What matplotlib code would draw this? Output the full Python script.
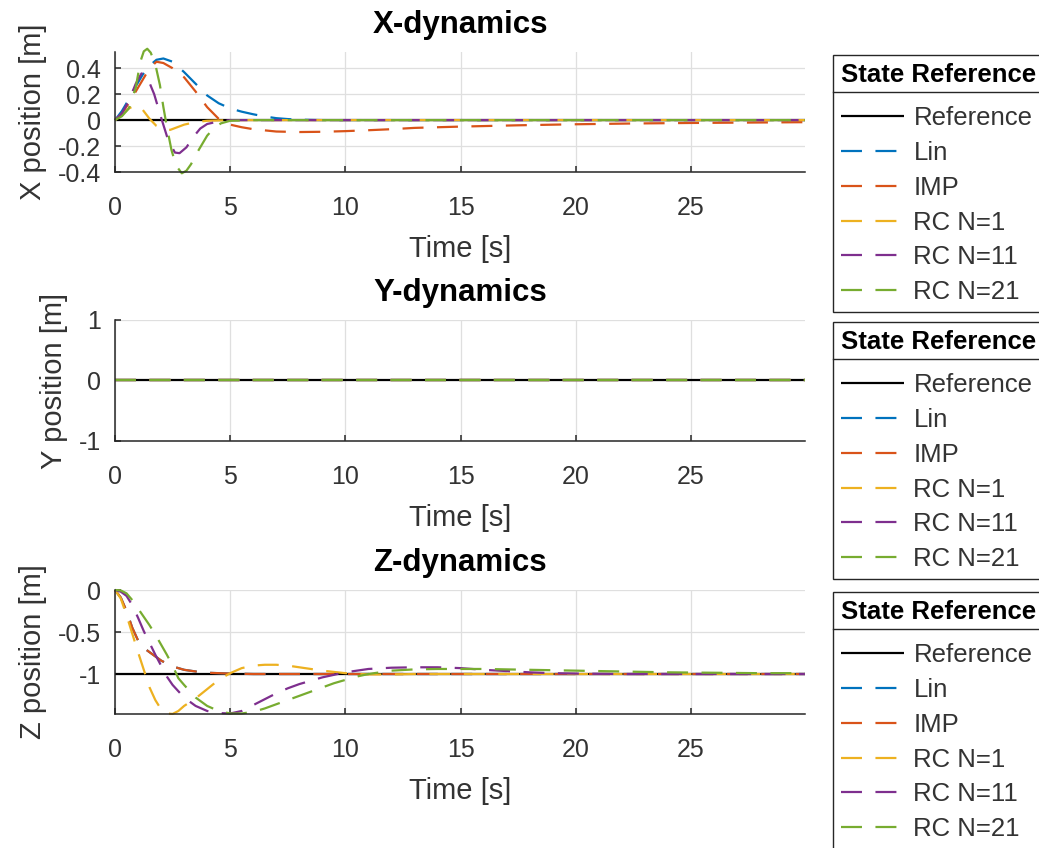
import matplotlib
matplotlib.use("Agg")
import matplotlib.pyplot as plt
from matplotlib.lines import Line2D

# ---------------- data ----------------
series_names = ["Reference", "Lin", "IMP", "RC N=1", "RC N=11", "RC N=21"]
series_colors = ["#000000", "#0072BD", "#D95319", "#EDB120", "#7E2F8E", "#77AC30"]
panel_titles = ["X-dynamics", "Y-dynamics", "Z-dynamics"]
panel_ylabels = ["X position [m]", "Y position [m]", "Z position [m]"]
x_tick_values = [0, 5, 10, 15, 20, 25]

# X position
x_ref_t = [0, 29.95]
x_ref = [0, 0]
x_lin_t = [0, 0.3, 0.6, 0.9, 1.2, 1.5, 1.8, 2.1, 2.5, 3.0, 3.5, 4.0, 4.5, 5.0, 5.5, 6.0,
           6.5, 7.0, 7.5, 8.0, 9.0, 10, 29.95]
x_lin = [0, 0.07, 0.16, 0.26, 0.35, 0.42, 0.465, 0.475, 0.45, 0.37, 0.28, 0.19, 0.13, 0.09,
         0.065, 0.045, 0.028, 0.015, 0.008, 0.003, 0.0, 0.0, 0.0]
x_imp_t = [0, 0.3, 0.6, 0.9, 1.2, 1.5, 1.8, 2.1, 2.5, 3.0, 3.5, 4.0, 4.5, 5.0, 5.5, 6.0, 7.0,
           8.0, 9.0, 10, 11, 12, 13, 15, 17.5, 20, 22.5, 25, 27.5, 29.95]
x_imp = [0, 0.05, 0.13, 0.22, 0.31, 0.40, 0.45, 0.44, 0.40, 0.33, 0.22, 0.10, 0.01, -0.035,
         -0.055, -0.07, -0.088, -0.092, -0.09, -0.085, -0.078, -0.07, -0.06, -0.05, -0.04,
         -0.032, -0.026, -0.022, -0.019, -0.016]
x_rc1_t = [0, 0.3, 0.6, 0.9, 1.2, 1.5, 1.8, 2.1, 2.4, 2.7, 3.0, 3.5, 4.0, 5.0, 29.95]
x_rc1 = [0, 0.04, 0.09, 0.115, 0.08, 0.01, -0.045, -0.072, -0.075, -0.055, -0.035, -0.015,
         -0.005, 0.0, 0.0]
x_rc11_t = [0, 0.3, 0.6, 0.9, 1.15, 1.4, 1.7, 2.0, 2.3, 2.6, 2.8, 3.1, 3.4, 3.7, 4.0, 4.5,
            5.0, 29.95]
x_rc11 = [0, 0.05, 0.15, 0.28, 0.36, 0.33, 0.20, 0.02, -0.15, -0.25, -0.255, -0.21, -0.13,
          -0.065, -0.03, -0.01, 0.0, 0.0]
x_rc21_t = [0, 0.3, 0.6, 0.9, 1.1, 1.25, 1.4, 1.55, 1.75, 1.95, 2.1, 2.25, 2.45, 2.65, 2.9,
            3.1, 3.3, 3.6, 4.0, 4.3, 4.6, 5.0, 6.0, 29.95]
x_rc21 = [0, 0.03, 0.09, 0.25, 0.45, 0.53, 0.55, 0.52, 0.43, 0.27, 0.10, -0.05, -0.23, -0.35,
          -0.41, -0.39, -0.34, -0.24, -0.12, -0.06, -0.025, -0.005, 0.0, 0.0]

# Y position (all controllers hold zero)
y_t = [0, 29.95]
y_ref = [0, 0]
y_lin = [0, 0]
y_imp = [0, 0]
y_rc1 = [0, 0]
y_rc11 = [0, 0]
y_rc21 = [0, 0]

# Z position
z_ref_t = [0, 29.95]
z_ref = [-1, -1]
z_imp_t = [0, 0.25, 0.5, 0.75, 1.0, 1.25, 1.5, 1.75, 2.0, 2.5, 3.0, 3.5, 4.0, 5.0, 6.0, 29.95]
z_imp = [0, -0.09, -0.25, -0.45, -0.60, -0.69, -0.74, -0.79, -0.84, -0.91, -0.95, -0.97,
         -0.985, -0.995, -1.0, -1.0]
z_lin_t = z_imp_t
z_lin = z_imp
z_rc1_t = [0, 0.25, 0.5, 0.75, 1.0, 1.25, 1.5, 1.75, 2.0, 2.25, 2.5, 2.75, 3.0, 3.5, 4.0,
           4.5, 5.0, 5.5, 6.0, 6.5, 7.0, 7.5, 8.0, 8.5, 9.0, 9.5, 10, 11, 12, 13, 29.95]
z_rc1 = [0, -0.10, -0.30, -0.52, -0.74, -0.95, -1.16, -1.31, -1.42, -1.47, -1.475, -1.44,
         -1.38, -1.29, -1.18, -1.07, -0.99, -0.93, -0.90, -0.89, -0.89, -0.90, -0.92, -0.94,
         -0.96, -0.975, -0.99, -1.005, -1.005, -1.0, -1.0]
z_rc11_t = [0, 0.25, 0.5, 0.75, 1.0, 1.25, 1.5, 1.75, 2.0, 2.25, 2.5, 3.0, 3.5, 4.0, 4.5,
            5.0, 5.5, 6.0, 6.5, 7.0, 7.5, 8.0, 8.5, 9.0, 9.5, 10, 10.5, 11, 12, 13, 14, 15,
            16, 17, 18, 19, 20, 22, 29.95]
z_rc11 = [0, -0.02, -0.07, -0.18, -0.33, -0.49, -0.63, -0.77, -0.90, -1.03, -1.13, -1.28,
          -1.38, -1.44, -1.465, -1.47, -1.44, -1.37, -1.30, -1.23, -1.17, -1.12, -1.08,
          -1.04, -1.01, -0.98, -0.96, -0.94, -0.925, -0.92, -0.92, -0.93, -0.95, -0.965,
          -0.98, -0.99, -0.995, -1.0, -1.0]
z_rc21_t = [0, 0.25, 0.5, 0.75, 1.0, 1.25, 1.5, 1.75, 2.0, 2.25, 2.5, 2.75, 3.0, 3.5, 4.0,
            4.5, 5.0, 5.5, 6.0, 6.5, 7.0, 7.5, 8.0, 8.5, 9.0, 9.5, 10, 10.5, 11, 11.5, 12,
            13, 14, 15, 16, 17, 18, 19, 20, 22, 24, 26, 28, 29.95]
z_rc21 = [0, -0.005, -0.04, -0.12, -0.22, -0.32, -0.42, -0.53, -0.65, -0.77, -0.90, -1.05,
          -1.13, -1.28, -1.38, -1.44, -1.47, -1.47, -1.45, -1.41, -1.36, -1.31, -1.26,
          -1.21, -1.16, -1.11, -1.07, -1.03, -1.00, -0.98, -0.96, -0.945, -0.94, -0.94,
          -0.94, -0.945, -0.95, -0.955, -0.96, -0.97, -0.98, -0.985, -0.99, -0.99]

panels = [
    [(x_ref_t, x_ref), (x_lin_t, x_lin), (x_imp_t, x_imp), (x_rc1_t, x_rc1),
     (x_rc11_t, x_rc11), (x_rc21_t, x_rc21)],
    [(y_t, y_ref), (y_t, y_lin), (y_t, y_imp), (y_t, y_rc1), (y_t, y_rc11), (y_t, y_rc21)],
    [(z_ref_t, z_ref), (z_lin_t, z_lin), (z_imp_t, z_imp), (z_rc1_t, z_rc1),
     (z_rc11_t, z_rc11), (z_rc21_t, z_rc21)],
]
panel_ylims = [(-0.4, 0.525), (-1, 1), (-1.476, 0)]
panel_yticks = [[-0.4, -0.2, 0, 0.2, 0.4], [-1, 0, 1], [-1, -0.5, 0]]
panel_yticklabels = [["-0.4", "-0.2", "0", "0.2", "0.4"], ["-1", "0", "1"], ["-1", "-0.5", "0"]]

# ---------------- style ----------------
plt.rcParams["font.family"] = ["Liberation Sans", "DejaVu Sans"]
plt.rcParams["lines.scale_dashes"] = False
AX_COLOR = "#262626"
TEXT_COLOR = "#333333"
W, H = 1039, 848
fig = plt.figure(figsize=(W / 100, H / 100), dpi=100)

# axes boxes in pixels: (left, top, right, bottom)
boxes = [(115, 52, 805, 172), (115, 320, 805, 441), (115, 590, 805, 714)]
legend_tops = [55, 322, 592]
LW = 1.6

for i, (l, t, r, b) in enumerate(boxes):
    ax = fig.add_axes([l / W, 1 - b / H, (r - l) / W, (b - t) / H])
    for j, (tt, vv) in enumerate(panels[i]):
        if j == 0:
            ax.plot(tt, vv, color=series_colors[j], lw=LW, label=series_names[j],
                    solid_capstyle="butt", clip_on=False)
        else:
            ax.plot(tt, vv, color=series_colors[j], lw=LW, label=series_names[j],
                    linestyle=(0, (15.1, 9.7)), dash_capstyle="butt", clip_on=False)
    ax.set_xlim(0, 29.95)
    ax.set_ylim(*panel_ylims[i])
    ax.set_xticks(x_tick_values)
    ax.set_xticklabels([str(v) for v in x_tick_values])
    ax.set_yticks(panel_yticks[i])
    ax.set_yticklabels(panel_yticklabels[i])
    ax.grid(True, color="#dfdfdf", lw=0.9)
    ax.set_axisbelow(True)
    for s in ["top", "right"]:
        ax.spines[s].set_visible(False)
    for s in ["left", "bottom"]:
        ax.spines[s].set_color(AX_COLOR)
        ax.spines[s].set_linewidth(1.1)
    ax.tick_params(direction="in", length=4, width=1.1, colors=AX_COLOR,
                   labelsize=18, labelcolor=TEXT_COLOR)
    ax.tick_params(axis="x", pad=17)
    ax.tick_params(axis="y", pad=10)
    ax.set_xlabel("Time [s]", fontsize=21, color=TEXT_COLOR, labelpad=11)
    ax.set_ylabel(panel_ylabels[i], fontsize=21, color=TEXT_COLOR, labelpad=8)
    ax.set_title(panel_titles[i], fontsize=22.5, fontweight="bold", pad=14)

    leg = ax.legend(loc="upper left", bbox_to_anchor=(833 / W, 1 - legend_tops[i] / H),
                    bbox_transform=fig.transFigure, borderaxespad=0, fontsize=18.5,
                    title="State Reference",
                    title_fontproperties={"weight": "bold", "size": 18.5},
                    alignment="left", frameon=True, fancybox=False, framealpha=1,
                    edgecolor=AX_COLOR, handlelength=2.45, handletextpad=0.38,
                    borderpad=0.3, labelspacing=0.42)
    leg.get_frame().set_linewidth(1.0)
    for txt in leg.get_texts():
        txt.set_color(TEXT_COLOR)
    leg._legend_box.sep = 14
    ax._state_legend = leg

# separator line beneath each legend title
fig.canvas.draw()
renderer = fig.canvas.get_renderer()
for ax in fig.axes:
    leg = ax._state_legend
    lbb = leg.get_window_extent(renderer)
    tbb = leg.get_title().get_window_extent(renderer)
    ysep = 0.5 * (tbb.y0 + tbb.y1) - 17
    fig.add_artist(Line2D([lbb.x0, lbb.x1], [ysep, ysep], transform=None,
                          color=AX_COLOR, lw=1.0))

fig.savefig("out.png", dpi=100)
